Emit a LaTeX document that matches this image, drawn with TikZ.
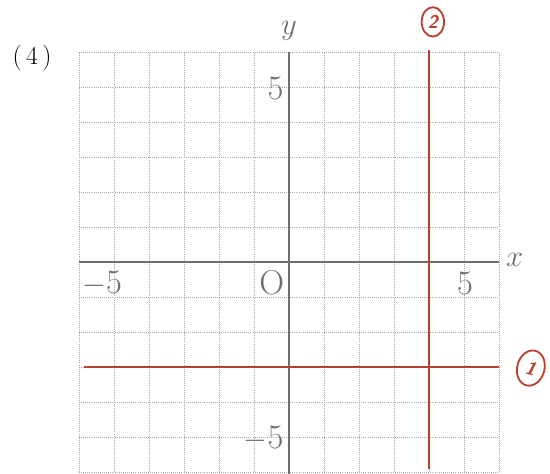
\documentclass[tikz,border=0pt]{standalone}
\usepackage{xcolor}
\usepackage{tikz}
\usetikzlibrary{positioning, arrows.meta, shapes.geometric}
\definecolor{axisgray}{HTML}{6E6E6E}
\definecolor{gridgray}{HTML}{A8A8A8}
\definecolor{penred}{HTML}{B8412F}

\begin{document}
\begin{tikzpicture}[
    gridline/.style={gridgray, densely dotted, line width=0.7pt},
    axisline/.style={axisgray, line width=1.8pt},
    graphline/.style={penred, line width=1.7pt},
    ticklabel/.style={axisgray, font=\fontsize{28}{30}\selectfont, inner sep=2pt},
    marklabel/.style={penred, draw, ellipse, line width=1.5pt, inner sep=0pt,
                      font=\bfseries\sffamily\itshape\fontsize{15}{16}\selectfont}]
    \useasboundingbox (-8.257,-6.029) rectangle (7.457,7.486);
    \draw[gridline] (-6,-6) grid (6,6);
    % axes
    \coordinate (xmin) at (-6,0);
    \coordinate (xmax) at (6,0);
    \coordinate (ymin) at (0,-6.05);
    \coordinate (ymax) at (0,6);
    \draw[axisline] (xmin) -- (xmax);
    \draw[axisline] (ymin) -- (ymax);
    \node[axisgray, font=\fontsize{27}{30}\selectfont] (xname) at (6.45,0.05) {$x$};
    \node[axisgray, font=\fontsize{27}{30}\selectfont] (yname) at (0,6.6) {$y$};
    \node[ticklabel] (origin) at (-0.49,-0.6) {O};
    \node[ticklabel] (xfive) at (5.03,-0.6) {5};
    \node[ticklabel] (xmfive) at (-5,-0.6) {\llap{$-$}5};
    \node[ticklabel, anchor=east] (yfive) at (-0.08,4.97) {5};
    \node[ticklabel, anchor=east] (ymfive) at (-0.08,-5.03) {$-$5};
    \node[font=\fontsize{21}{24}\selectfont] (part) at (-7.34,5.83) {(\,4\,)};
    % graphs
    \coordinate (hleft) at (-5.85,-3);
    \coordinate (hright) at (6,-3);
    \coordinate (vtop) at (4,6.05);
    \coordinate (vbottom) at (4,-5.9);
    \draw[graphline] (hleft) -- (hright);
    \draw[graphline] (vtop) -- (vbottom);
    \node[marklabel, minimum width=0.78cm, minimum height=1.02cm, rotate=-15] (markone) at (6.91,-3.03) {1};
    \node[marklabel, minimum width=0.64cm, minimum height=0.84cm] (marktwo) at (4.11,6.86) {2};
\end{tikzpicture}
\end{document}
